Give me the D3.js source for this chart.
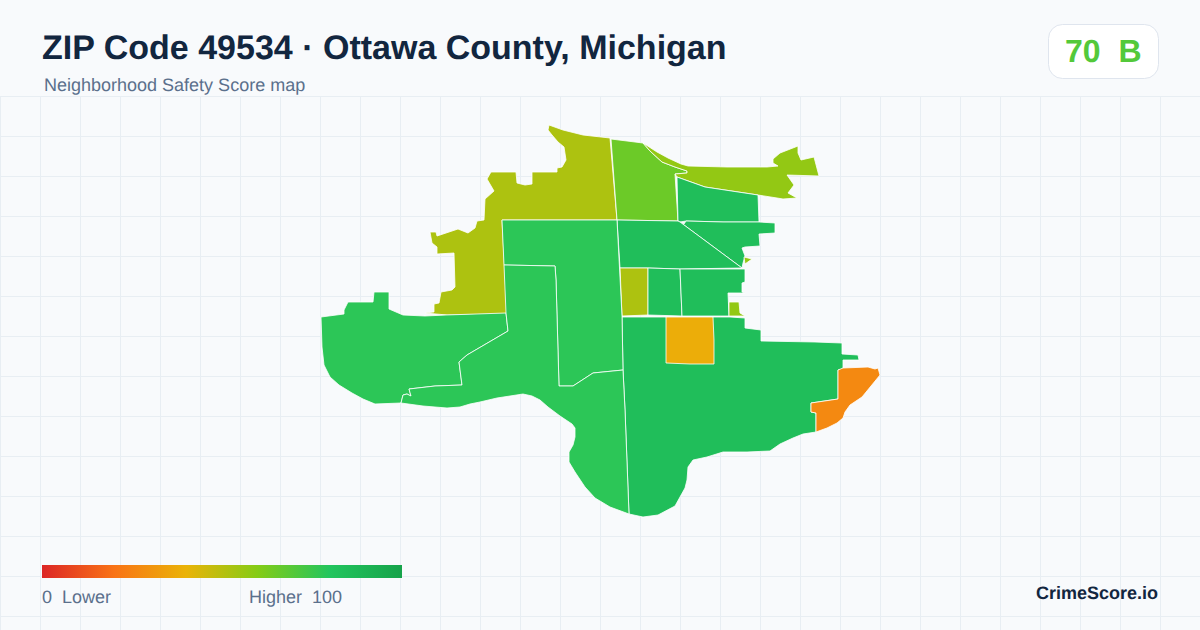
<!DOCTYPE html>
<html>
<head>
<meta charset="utf-8">
<style>
  html, body { margin: 0; padding: 0; background: #f8fafc; }
  svg { display: block; font-family: "Liberation Sans", Arial, sans-serif; text-rendering: geometricPrecision; }
  text { white-space: pre; }
</style>
<script src="https://cdn.jsdelivr.net/npm/d3@7"></script>
</head>
<body>
<div id="chart"></div>
<script>
var titleText = "ZIP Code 49534 \u00b7 Ottawa County, Michigan";
var subtitleText = "Neighborhood Safety Score map";
var badgeText = "70  B";
var legendLow = "0  Lower";
var legendHigh = "Higher  100";
var brandText = "CrimeScore.io";

var colorDomain = [0, 20, 40, 60, 80, 100];
var colorRange = ["#dc2626", "#f97316", "#eab308", "#84cc16", "#22c55e", "#16a34a"];

// tract scores, same order as tractRings
var tractScores = [52, 65, 57, 84, 84, 84, 52, 84, 84, 57, 84, 38, 27, 78, 78, 78, 57];

// outlines, in map units
var tractRings = [
  // north west
  [[549,125],[563,130],[583,135],[610,138],[617,220],[502,220],[507,314],[447,315],[425,313],[434,312],[434,304],[439,303],[441,292],[452,290],[455,287],[454,253],[437,254],[437,247],[432,243],[430,232],[436,232],[437,236],[458,229],[468,233],[475,228],[477,221],[484,220],[485,199],[494,191],[487,179],[491,172],[516,172],[517,183],[525,185],[532,184],[532,172],[557,172],[557,168],[562,167],[566,160],[564,147],[558,142],[552,135],[548,130]],
  // north middle
  [[611,139],[627,141],[643,143],[650,151],[662,162],[675,167],[687,171],[687,173],[675,174],[678,221],[617,220]],
  // north east strip
  [[643,143],[657,152],[668,158],[681,164],[688,166],[727,167],[767,167],[778,166],[773,163],[773,159],[780,153],[798,146],[798,153],[801,160],[814,157],[819,176],[787,175],[794,185],[788,193],[797,198],[783,199],[777,198],[758,195],[705,187],[677,177],[675,174],[687,173],[687,171],[675,167],[662,162],[650,151]],
  [[677,177],[705,187],[758,195],[759,222],[723,222],[686,221],[680,222],[678,221]],
  [[686,221],[723,222],[759,222],[775,223],[775,233],[759,234],[760,246],[745,247],[742,248],[745,256],[743,263],[742,268],[680,222],[684,224]],
  [[617,220],[678,221],[680,222],[742,268],[680,269],[648,268],[620,268]],
  // row of blocks
  [[620,268],[648,268],[648,315],[622,316]],
  [[648,268],[680,269],[682,316],[648,315]],
  [[680,269],[745,269],[745,282],[742,283],[742,292],[745,293],[728,293],[729,316],[682,316]],
  [[729,302],[739,302],[740,313],[745,316],[729,316]],
  // south east
  [[622,317],[730,317],[745,318],[745,328],[761,330],[761,341],[815,342],[842,343],[842,354],[858,355],[859,360],[843,360],[843,369],[838,370],[838,399],[811,403],[811,412],[816,413],[816,432],[803,434],[793,438],[780,444],[770,451],[747,452],[723,452],[707,457],[693,460],[688,467],[687,480],[685,488],[675,506],[658,515],[643,517],[629,514],[625,410],[623,370]],
  [[666,317],[713,317],[714,340],[714,364],[690,364],[666,363]],
  [[838,370],[843,368],[868,367],[875,369],[878,368],[880,375],[862,397],[850,405],[845,412],[843,418],[837,423],[827,428],[816,432],[816,413],[811,412],[811,403],[838,399]],
  // west
  [[321,317],[344,314],[344,310],[348,302],[373,302],[374,292],[389,292],[389,309],[403,315],[425,316],[446,315],[506,313],[508,331],[467,355],[459,362],[462,385],[435,386],[409,389],[411,396],[407,394],[403,395],[401,403],[375,404],[363,399],[352,393],[339,385],[330,377],[324,365],[322,347]],
  [[502,220],[617,220],[622,316],[623,370],[593,373],[573,386],[559,386],[556,280],[555,266],[504,265]],
  [[504,265],[555,266],[556,280],[559,386],[573,386],[593,373],[623,370],[625,410],[629,514],[610,507],[595,498],[585,487],[575,472],[569,462],[569,452],[573,445],[575,437],[575,428],[572,424],[560,416],[548,407],[540,400],[532,396],[523,394],[510,396],[497,398],[480,402],[470,404],[460,407],[447,408],[423,406],[401,403],[403,395],[407,394],[411,396],[409,389],[435,386],[462,385],[459,362],[467,355],[508,331],[506,313]],
  // small island
  [[744,257],[752,259],[745,264]]
];

var width = 1200;
var height = 630;

var svg = d3.select("#chart")
  .append("svg")
  .attr("width", width)
  .attr("height", height);

svg.append("rect")
  .attr("width", width)
  .attr("height", height)
  .attr("fill", "#f8fafc");

// background grid
var gridTop = 96;
var gridGroup = svg.append("g")
  .attr("stroke", "#e8eef3")
  .attr("stroke-width", 1);

gridGroup.selectAll("line.v")
  .data(d3.range(0, width, 40))
  .enter()
  .append("line")
  .attr("class", "v")
  .attr("x1", d => d + 0.5)
  .attr("x2", d => d + 0.5)
  .attr("y1", gridTop)
  .attr("y2", height);

gridGroup.selectAll("line.h")
  .data(d3.range(gridTop, height, 40))
  .enter()
  .append("line")
  .attr("class", "h")
  .attr("x1", 0)
  .attr("x2", width)
  .attr("y1", d => d + 0.5)
  .attr("y2", d => d + 0.5);

// map
var color = d3.scaleLinear().domain(colorDomain).range(colorRange);

var tracts = {
  type: "FeatureCollection",
  features: tractRings.map(function (ring, i) {
    return {
      type: "Feature",
      properties: { score: tractScores[i] },
      geometry: { type: "Polygon", coordinates: [ring.concat([ring[0]])] }
    };
  })
};

var projection = d3.geoIdentity().fitExtent([[321, 125], [880, 517]], tracts);
var path = d3.geoPath(projection);

svg.append("g")
  .selectAll("path")
  .data(tracts.features)
  .enter()
  .append("path")
  .attr("d", path)
  .attr("fill", d => color(d.properties.score))
  .attr("stroke", "#ffffff")
  .attr("stroke-width", 0.8)
  .attr("stroke-linejoin", "round");

// header
svg.append("text")
  .attr("x", 42)
  .attr("y", 59)
  .attr("font-size", 34)
  .attr("font-weight", 700)
  .attr("fill", "#12263f")
  .text(titleText);

svg.append("text")
  .attr("x", 44)
  .attr("y", 91)
  .attr("font-size", 18)
  .attr("fill", "#5b708c")
  .text(subtitleText);

// score badge
svg.append("rect")
  .attr("x", 1048.5)
  .attr("y", 24.5)
  .attr("width", 110)
  .attr("height", 54)
  .attr("rx", 14)
  .attr("fill", "#ffffff")
  .attr("stroke", "#dfe5ee");

svg.append("text")
  .attr("x", 1065)
  .attr("y", 62)
  .attr("font-size", 32)
  .attr("font-weight", 700)
  .attr("fill", color(70))
  .text(badgeText);

// legend
var legendX = d3.scaleLinear().domain([0, 100]).range([42, 402]);

var gradient = svg.append("defs")
  .append("linearGradient")
  .attr("id", "legend-gradient");

gradient.selectAll("stop")
  .data(colorDomain)
  .enter()
  .append("stop")
  .attr("offset", d => d + "%")
  .attr("stop-color", d => color(d));

svg.append("rect")
  .attr("x", legendX(0))
  .attr("y", 565)
  .attr("width", legendX(100) - legendX(0))
  .attr("height", 13)
  .attr("fill", "url(#legend-gradient)");

svg.append("text")
  .attr("x", 42)
  .attr("y", 603)
  .attr("font-size", 18)
  .attr("fill", "#5b708c")
  .text(legendLow);

svg.append("text")
  .attr("x", 249)
  .attr("y", 603)
  .attr("font-size", 18)
  .attr("fill", "#5b708c")
  .text(legendHigh);

svg.append("text")
  .attr("x", 1158)
  .attr("y", 599)
  .attr("text-anchor", "end")
  .attr("font-size", 18)
  .attr("font-weight", 700)
  .attr("fill", "#12263f")
  .text(brandText);
</script>
</body>
</html>
